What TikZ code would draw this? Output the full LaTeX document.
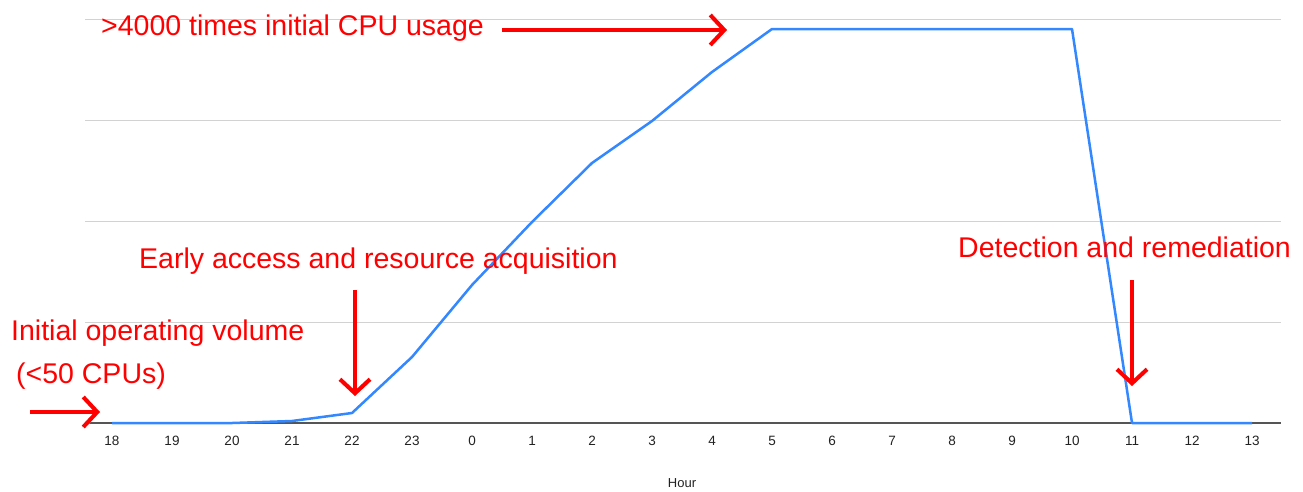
\documentclass[tikz,border=0pt]{standalone}
\usepackage{fontspec}
\setmainfont{Liberation Sans}
\usetikzlibrary{arrows.meta}
\definecolor{linblue}{RGB}{51,136,255}
\definecolor{annred}{RGB}{255,0,0}
\definecolor{gridgray}{RGB}{210,210,210}
\definecolor{axisgray}{RGB}{85,85,85}
\definecolor{ticktext}{RGB}{34,34,34}
\definecolor{shadowgray}{RGB}{225,225,225}
\begin{document}
\begin{tikzpicture}[x=1pt,y=-1pt,
  ann/.style={text=annred, font=\fontsize{28.5}{29}\selectfont, inner sep=0pt, anchor=base west},
  tick/.style={text=ticktext, font=\fontsize{13.5}{14}\selectfont, inner sep=0pt},
  gridline/.style={draw=gridgray, line width=1pt},
  axisline/.style={draw=axisgray, line width=1.5pt},
  dataline/.style={draw=linblue, line width=2.5pt, line join=round},
  redarrow/.style={draw=annred, line width=4pt, -{Straight Barb[length=14pt,width=30pt,line width=4pt]}},
  arrowshadow/.style={redarrow, draw=shadowgray, shift={(1.5pt,-2pt)}},
]
\useasboundingbox (0,0) rectangle (1303,491);
\fill[white] (0,0) rectangle (1303,491);
% grid
\foreach \yy in {19,120,221,322}{
  \draw[gridline] (85,\yy) -- (1281,\yy);
}
\coordinate (axL) at (85,423);
\coordinate (axR) at (1281,423);
\draw[axisline] (axL) -- (axR);
% tick labels
\foreach \l [count=\i from 0] in {18,19,20,21,22,23,0,1,2,3,4,5,6,7,8,9,10,11,12,13}{
  \node[tick] (t\i) at ({112+60*\i},441) {\l};
}
\node[tick, font=\fontsize{13}{13}\selectfont] (hour) at (682,483) {Hour};
% data
\foreach \yv [count=\i from 0] in {423,423,423,421,413,357,285,222,163,121,72,29,29,29,29,29,29,423,423,423}{
  \coordinate (p\i) at ({112+60*\i},\yv);
}
\draw[dataline] (p0) -- (p1) -- (p2) -- (p3) -- (p4) -- (p5) -- (p6) -- (p7) -- (p8) -- (p9) -- (p10) -- (p11) -- (p12) -- (p13) -- (p14) -- (p15) -- (p16) -- (p17) -- (p18) -- (p19);
% annotations
\node[ann] (top) at (101,35) {>4000 times initial CPU usage};
\node[ann] (early) at (139,268) {Early access and resource acquisition};
\node[ann] (init) at (11,340) {Initial operating volume};
\node[ann] (cpus) at (16,383) {(<50 CPUs)};
\node[ann] (detect) at (958,257) {Detection and remediation};
% arrows
\coordinate (a1s) at (502,30);  \coordinate (a1e) at (727,30);
\coordinate (a2s) at (355,290); \coordinate (a2e) at (355,396);
\coordinate (a3s) at (1132,280); \coordinate (a3e) at (1132,386);
\coordinate (a4s) at (30,412);  \coordinate (a4e) at (100,412);
\draw[arrowshadow] (a1s) -- (a1e);
\draw[arrowshadow] (a2s) -- (a2e);
\draw[arrowshadow] (a3s) -- (a3e);
\draw[arrowshadow] (a4s) -- (a4e);
\draw[redarrow] (a1s) -- (a1e);
\draw[redarrow] (a2s) -- (a2e);
\draw[redarrow] (a3s) -- (a3e);
\draw[redarrow] (a4s) -- (a4e);
\end{tikzpicture}
\end{document}
